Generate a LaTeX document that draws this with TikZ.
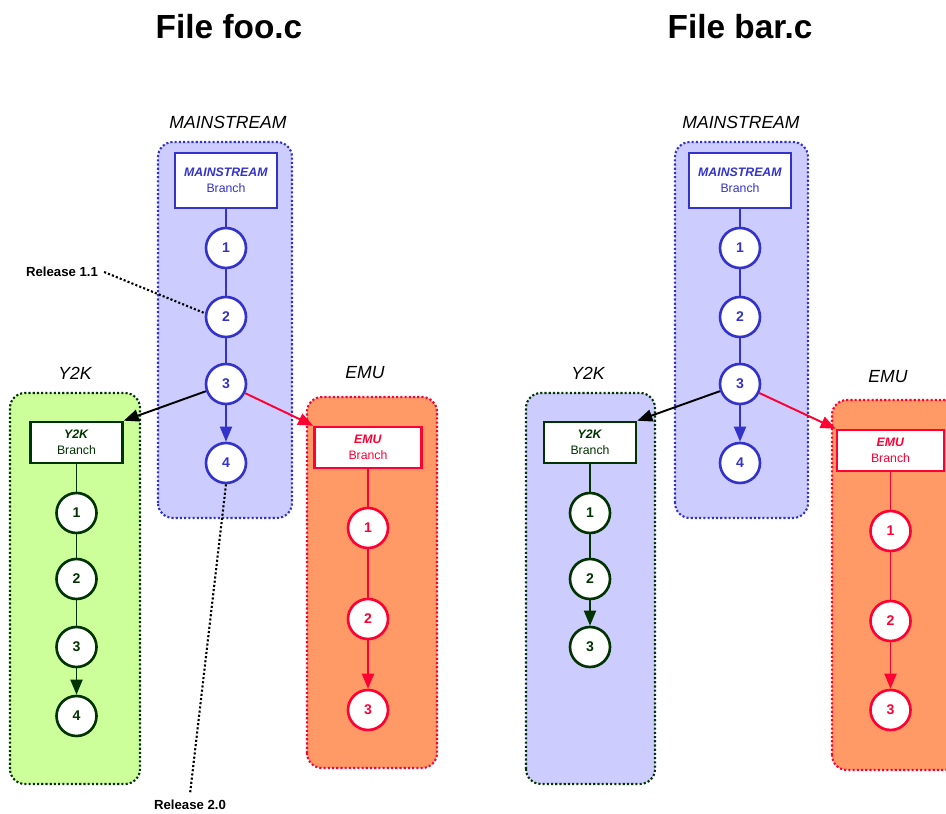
\documentclass[tikz,border=0pt]{standalone}
\usepackage{fontspec}
\setmainfont{Liberation Sans}
\usetikzlibrary{arrows.meta}
\definecolor{mainblue}{HTML}{3333CC}
\definecolor{mainfill}{HTML}{CCCCFF}
\definecolor{y2kgreen}{HTML}{003300}
\definecolor{y2kfill}{HTML}{CCFF99}
\definecolor{emured}{HTML}{FF0033}
\definecolor{emufill}{HTML}{FF9966}
\begin{document}
\begin{tikzpicture}[
  panel/.style = {line width = 1.2pt, dash pattern = on 1.2pt off 1.2pt, rounded corners = 0.3cm},
  branchbox/.style = {draw, fill = white, line width = 1.5pt, minimum width = 1.84cm, minimum height = 0.82cm, align = center, inner sep = 1pt, font = \fontsize{7}{9}\selectfont},
  revnode/.style = {draw, circle, fill = white, line width = 1.5pt, minimum size = 0.8cm, inner sep = 0pt, font = \fontsize{8}{9}\selectfont\bfseries},
  tagtext/.style = {font = \fontsize{10}{12}\selectfont\itshape},
  titletext/.style = {font = \fontsize{19}{23}\selectfont\bfseries},
  releasetext/.style = {font = \fontsize{7.5}{9}\selectfont\bfseries},
  link/.style = {line width = 1.1pt},
  pointer/.style = {line width = 1.2pt, dash pattern = on 1.2pt off 1.2pt},
  >={Triangle[length = 0.3cm, width = 0.24cm]}
]
\useasboundingbox (0,0) rectangle (18.92,16.26);
\clip (0,0) rectangle (18.92,16.26);
% file foo.c
\node[titletext] at (4.58,15.72) (foo) {File foo.c};
\filldraw[panel, fill = mainfill, draw = mainblue] (3.16,5.9) rectangle (5.84,13.42);
\filldraw[panel, fill = y2kfill, draw = y2kgreen] (0.2,0.58) rectangle (2.8,8.4);
\filldraw[panel, fill = emufill, draw = emured] (6.14,0.9) rectangle (8.74,8.32);
\node[tagtext] at (4.56,13.82) (mtag) {MAINSTREAM};
\node[tagtext] at (1.5,8.8) (ytag) {Y2K};
\node[tagtext] at (7.3,8.8) (etag) {EMU};
\node[branchbox, draw = mainblue, text = mainblue, minimum width = 2.04cm, minimum height = 1.1cm] at (4.52,12.65) (mb) {\textbf{\textit{MAINSTREAM}}\\Branch};
\node[revnode, draw = mainblue, text = mainblue] at (4.52,11.3) (m1) {1};
\node[revnode, draw = mainblue, text = mainblue] at (4.52,9.92) (m2) {2};
\node[revnode, draw = mainblue, text = mainblue] at (4.52,8.58) (m3) {3};
\node[revnode, draw = mainblue, text = mainblue] at (4.52,7.0) (m4) {4};
\node[branchbox, draw = y2kgreen, text = y2kgreen] at (1.53,7.41) (yb) {\textbf{\textit{Y2K}}\\Branch};
\node[revnode, draw = y2kgreen, text = y2kgreen] at (1.53,6.0) (y1) {1};
\node[revnode, draw = y2kgreen, text = y2kgreen] at (1.53,4.68) (y2) {2};
\node[revnode, draw = y2kgreen, text = y2kgreen] at (1.53,3.32) (y3) {3};
\node[revnode, draw = y2kgreen, text = y2kgreen] at (1.53,1.94) (y4) {4};
\node[branchbox, draw = emured, text = emured, minimum width = 2.14cm] at (7.36,7.31) (eb) {\textbf{\textit{EMU}}\\Branch};
\node[revnode, draw = emured, text = emured] at (7.36,5.7) (e1) {1};
\node[revnode, draw = emured, text = emured] at (7.36,3.88) (e2) {2};
\node[revnode, draw = emured, text = emured] at (7.36,2.06) (e3) {3};
\draw[link, mainblue] (mb) -- (m1);
\draw[link, mainblue] (m1) -- (m2);
\draw[link, mainblue] (m2) -- (m3);
\draw[link, mainblue, ->] (m3) -- (m4);
\draw[link, y2kgreen] (yb) -- (y1);
\draw[link, y2kgreen] (y1) -- (y2);
\draw[link, y2kgreen] (y2) -- (y3);
\draw[link, y2kgreen, ->] (y3) -- (y4);
\draw[link, emured] (eb) -- (e1);
\draw[link, emured] (e1) -- (e2);
\draw[link, emured, ->] (e2) -- (e3);
\draw[link, ->] (m3) -- (yb.north east);
\draw[link, emured, ->] (m3) -- (eb.north west);
\node[releasetext] at (1.24,10.82) (r11) {Release 1.1};
\node[releasetext] at (3.8,0.16) (r20) {Release 2.0};
\draw[pointer] (r11.east) -- (m2.170);
\draw[pointer] (m4.south) -- (r20.north);
% file bar.c
\node[titletext] at (14.8,15.72) (bar) {File bar.c};
\filldraw[panel, fill = mainfill, draw = mainblue] (13.5,5.9) rectangle (16.16,13.42);
\filldraw[panel, fill = mainfill, draw = y2kgreen] (10.52,0.58) rectangle (13.1,8.4);
\filldraw[panel, fill = emufill, draw = emured] (16.64,0.86) rectangle (19.3,8.26);
\node[tagtext] at (14.82,13.82) (mtag2) {MAINSTREAM};
\node[tagtext] at (11.76,8.8) (ytag2) {Y2K};
\node[tagtext] at (17.76,8.72) (etag2) {EMU};
\node[branchbox, draw = mainblue, text = mainblue, minimum width = 2.04cm, minimum height = 1.1cm] at (14.8,12.65) (mb2) {\textbf{\textit{MAINSTREAM}}\\Branch};
\node[revnode, draw = mainblue, text = mainblue] at (14.8,11.3) (n1) {1};
\node[revnode, draw = mainblue, text = mainblue] at (14.8,9.92) (n2) {2};
\node[revnode, draw = mainblue, text = mainblue] at (14.8,8.58) (n3) {3};
\node[revnode, draw = mainblue, text = mainblue] at (14.8,7.0) (n4) {4};
\node[branchbox, draw = y2kgreen, text = y2kgreen] at (11.8,7.41) (yb2) {\textbf{\textit{Y2K}}\\Branch};
\node[revnode, draw = y2kgreen, text = y2kgreen] at (11.8,6.0) (z1) {1};
\node[revnode, draw = y2kgreen, text = y2kgreen] at (11.8,4.68) (z2) {2};
\node[revnode, draw = y2kgreen, text = y2kgreen] at (11.8,3.32) (z3) {3};
\node[branchbox, draw = emured, text = emured, minimum width = 2.14cm] at (17.81,7.25) (eb2) {\textbf{\textit{EMU}}\\Branch};
\node[revnode, draw = emured, text = emured] at (17.81,5.64) (f1) {1};
\node[revnode, draw = emured, text = emured] at (17.81,3.84) (f2) {2};
\node[revnode, draw = emured, text = emured] at (17.81,2.06) (f3) {3};
\draw[link, mainblue] (mb2) -- (n1);
\draw[link, mainblue] (n1) -- (n2);
\draw[link, mainblue] (n2) -- (n3);
\draw[link, mainblue, ->] (n3) -- (n4);
\draw[link, y2kgreen] (yb2) -- (z1);
\draw[link, y2kgreen] (z1) -- (z2);
\draw[link, y2kgreen, ->] (z2) -- (z3);
\draw[link, emured] (eb2) -- (f1);
\draw[link, emured] (f1) -- (f2);
\draw[link, emured, ->] (f2) -- (f3);
\draw[link, ->] (n3) -- (yb2.north east);
\draw[link, emured, ->] (n3) -- (eb2.north west);
\end{tikzpicture}
\end{document}
